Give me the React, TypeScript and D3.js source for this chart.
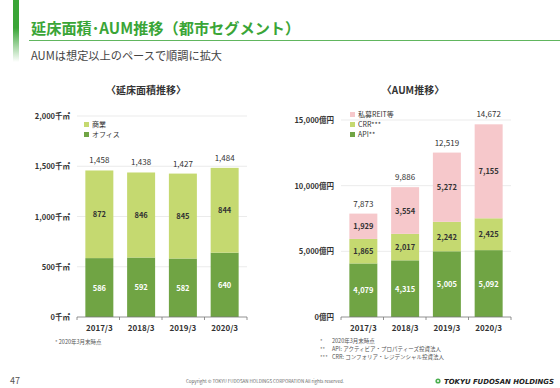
import React from 'react';
import * as d3 from 'd3';

const years = ['2017/3', '2018/3', '2019/3', '2020/3'];

// 延床面積 (千㎡)
const office = [586, 592, 582, 640];
const retail = [872, 846, 845, 844];
const floorTotals = ['1,458', '1,438', '1,427', '1,484'];
const floorTicks = [0, 500, 1000, 1500, 2000];

// AUM (億円)
const api = [4079, 4315, 5005, 5092];
const crr = [1865, 2017, 2242, 2425];
const privateReit = [1929, 3554, 5272, 7155];
const aumTotals = ['7,873', '9,886', '12,519', '14,672'];
const aumTicks = [0, 5000, 10000, 15000];

const GREEN = '#3aa537';
const DARK = '#70a444';
const LIGHT = '#c5d970';
const PINK = '#f6c8cb';
const JP = '"Noto Sans CJK JP", sans-serif';
const fmt = d3.format(',');

type Series = { name: string; values: number[]; color: string; text: string };

function StackChart(props: {
  title: string;
  cx: number;
  x0: number;
  x1: number;
  max: number;
  top: number;
  ticks: number[];
  unit: string;
  series: Series[];
  totals: string[];
  legendX: number;
  legendY: number;
}) {
  const { x0, x1, series } = props;
  const y = d3.scaleLinear().domain([0, props.max]).range([317, props.top]);
  const x = d3.scaleBand().domain(years).range([x0, x1]).paddingInner(0.33).paddingOuter(0.2);
  const stack = d3.stack<number>().keys(series.map((_, i) => String(i)))
    .value((i, k) => series[+k].values[i]);
  const layers = stack(years.map((_, i) => i));
  const legend = [...series].reverse();
  return (
    <g fontFamily={JP}>
      <text x={props.cx} y={94} textAnchor="middle" fontSize={10} fontWeight="bold" fill="#333">{props.title}</text>
      {props.ticks.map(t => (
        <g key={t}>
          {t > 0 && <line x1={x0} x2={x1} y1={y(t)} y2={y(t)} stroke="#e6e6e6" strokeWidth={0.8} />}
          <text x={x0 - 7} y={y(t) + 3} textAnchor="end" fontSize={7.5} fontWeight="bold" fill="#333">{fmt(t)}{props.unit}</text>
        </g>
      ))}
      {layers.map((layer, li) => (
        <g key={li}>
          {layer.map((d, i) => (
            <g key={i}>
              <rect x={x(years[i])} y={y(d[1])} width={x.bandwidth()} height={y(d[0]) - y(d[1])} fill={series[li].color} />
              <text x={(x(years[i]) as number) + x.bandwidth() / 2} y={(y(d[0]) + y(d[1])) / 2 + 3}
                textAnchor="middle" fontSize={7.5} fontWeight="bold" fill={series[li].text}>{fmt(series[li].values[i])}</text>
            </g>
          ))}
        </g>
      ))}
      {years.map((yr, i) => {
        const top = layers[layers.length - 1][i][1];
        return (
          <g key={yr}>
            <text x={(x(yr) as number) + x.bandwidth() / 2} y={y(top) - 7} textAnchor="middle" fontSize={8} fill="#333">{props.totals[i]}</text>
            <text x={(x(yr) as number) + x.bandwidth() / 2} y={331} textAnchor="middle" fontSize={8} fontWeight="bold" fill="#333">{yr}</text>
          </g>
        );
      })}
      <line x1={x0} x2={x1} y1={317} y2={317} stroke="#777" strokeWidth={0.8} />
      {d3.range(years.length + 1).map(i => {
        const tx = x0 + (i * (x1 - x0)) / years.length;
        return <line key={i} x1={tx} x2={tx} y1={317} y2={320} stroke="#777" strokeWidth={0.8} />;
      })}
      {legend.map((s, i) => (
        <g key={s.name}>
          <rect x={props.legendX} y={props.legendY + i * 10 - 5} width={5} height={5} fill={s.color} />
          <text x={props.legendX + 8} y={props.legendY + i * 10} fontSize={7} fill="#333">{s.name}</text>
        </g>
      ))}
    </g>
  );
}

export default function App() {
  return (
    <svg width={560} height={388} style={{ position: 'absolute', left: 0, top: 0, background: '#fff' }}>
      <defs>
        <linearGradient id="side" x1="0" y1="0" x2="0" y2="1">
          <stop offset="0" stopColor={GREEN} />
          <stop offset="0.45" stopColor={GREEN} />
          <stop offset="1" stopColor="#fff" />
        </linearGradient>
      </defs>
      <rect x={13} y={0} width={6} height={62} fill="url(#side)" />
      <text x={31} y={34} fontFamily={JP} fontSize={15.2} fontWeight="bold" fill={GREEN}>延床面積･AUM推移（都市セグメント）</text>
      <line x1={29} x2={560} y1={40.5} y2={40.5} stroke={GREEN} strokeWidth={1.2} opacity={0.8} />
      <text x={31} y={60} fontFamily={JP} fontSize={11.2} fill="#444">AUMは想定以上のペースで順調に拡大</text>

      <StackChart title="〈延床面積推移〉" cx={146} x0={77} x1={247} max={2000} top={116}
        ticks={floorTicks} unit="千㎡" totals={floorTotals} legendX={84} legendY={127}
        series={[
          { name: 'オフィス', values: office, color: DARK, text: '#fff' },
          { name: '商業', values: retail, color: LIGHT, text: '#333' },
        ]} />
      <StackChart title="〈AUM推移〉" cx={413} x0={341} x1={511} max={15000} top={120}
        ticks={aumTicks} unit="億円" totals={aumTotals} legendX={350} legendY={117}
        series={[
          { name: 'API**', values: api, color: DARK, text: '#fff' },
          { name: 'CRR***', values: crr, color: LIGHT, text: '#333' },
          { name: '私募REIT等', values: privateReit, color: PINK, text: '#333' },
        ]} />

      <g fontFamily={JP} fontSize={5.5} fill="#555">
        <text x={55} y={344}>* 2020年3月末時点</text>
        <text x={320} y={343}>*</text>
        <text x={332} y={343}>2020年3月末時点</text>
        <text x={320} y={351}>**</text>
        <text x={332} y={351}>API: アクティビア・プロパティーズ投資法人</text>
        <text x={320} y={359}>***</text>
        <text x={332} y={359}>CRR: コンフォリア・レジデンシャル投資法人</text>
      </g>
      <text x={10} y={384} fontFamily={JP} fontSize={9} fill="#555">47</text>
      <text x={265} y={383} textAnchor="middle" fontFamily={JP} fontSize={4.5} fill="#666">Copyright © TOKYU FUDOSAN HOLDINGS CORPORATION All rights reserved.</text>
      <circle cx={438} cy={381} r={2.6} fill="#4caf50" />
      <circle cx={438} cy={381} r={1} fill="#fff" />
      <text x={444} y={384} fontFamily="'DejaVu Sans', sans-serif" fontSize={7} fontWeight="bold" fontStyle="italic" fill="#222"
        textLength={110} lengthAdjust="spacingAndGlyphs">TOKYU FUDOSAN HOLDINGS</text>
    </svg>
  );
}
